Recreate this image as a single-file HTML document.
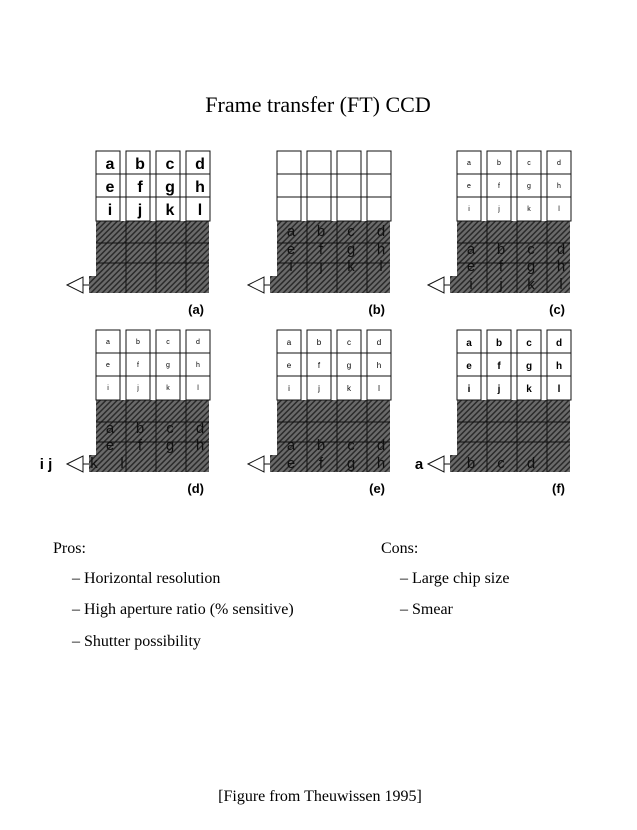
<!DOCTYPE html><html><head><style>body{margin:0;background:#fff}</style></head><body>
<svg width="637" height="825" xmlns="http://www.w3.org/2000/svg" font-family="Liberation Sans, sans-serif">
<defs><pattern id="h" width="4" height="4" patternUnits="userSpaceOnUse" patternTransform="rotate(45)"><rect width="4" height="4" fill="#6a6a6a"/><rect width="1.5" height="4" fill="#2a2a2a"/></pattern>
<g id="base"><rect x="0" y="70" width="113" height="55" fill="url(#h)"/><rect x="-7" y="125" width="120" height="17" fill="url(#h)"/>
<g stroke="#111" stroke-width="1" fill="none"><line x1="30" y1="70" x2="30" y2="142"/><line x1="60" y1="70" x2="60" y2="142"/><line x1="90" y1="70" x2="90" y2="142"/><line x1="0" y1="92" x2="113" y2="92"/><line x1="0" y1="112" x2="113" y2="112"/></g>
<g fill="#fff" stroke="#111"><rect x="0" y="0" width="24" height="70"/><rect x="30" y="0" width="24" height="70"/><rect x="60" y="0" width="24" height="70"/><rect x="90" y="0" width="24" height="70"/></g>
<g stroke="#111"><line x1="0" y1="23" x2="114" y2="23"/><line x1="0" y1="46" x2="114" y2="46"/></g>
<g stroke="#111" fill="#fff"><polygon points="-29,134 -13,126 -13,142"/><line x1="-13" y1="134" x2="-7" y2="134"/></g></g></defs>
<text x="318" y="112" text-anchor="middle" font-family="Liberation Serif, serif" font-size="22">Frame transfer (FT) CCD</text>
<g transform="translate(96,151)"><use href="#base"/><g font-size="16" font-weight="bold" text-anchor="middle"><text x="14" y="18">a</text><text x="44" y="18">b</text><text x="74" y="18">c</text><text x="104" y="18">d</text><text x="14" y="41">e</text><text x="44" y="41">f</text><text x="74" y="41">g</text><text x="104" y="41">h</text><text x="14" y="64">i</text><text x="44" y="64">j</text><text x="74" y="64">k</text><text x="104" y="64">l</text></g><text x="108" y="163" font-size="13" font-weight="bold" text-anchor="end">(a)</text></g>
<g transform="translate(277,151)"><use href="#base"/><g font-size="15" fill="#111" text-anchor="middle"><text x="14" y="85">a</text><text x="44" y="85">b</text><text x="74" y="85">c</text><text x="104" y="85">d</text><text x="14" y="103">e</text><text x="44" y="103">f</text><text x="74" y="103">g</text><text x="104" y="103">h</text><text x="14" y="120">i</text><text x="44" y="120">j</text><text x="74" y="120">k</text><text x="104" y="120">l</text></g><text x="108" y="163" font-size="13" font-weight="bold" text-anchor="end">(b)</text></g>
<g transform="translate(457,151)"><use href="#base"/><g font-size="7" text-anchor="middle"><text x="12" y="14">a</text><text x="42" y="14">b</text><text x="72" y="14">c</text><text x="102" y="14">d</text><text x="12" y="37">e</text><text x="42" y="37">f</text><text x="72" y="37">g</text><text x="102" y="37">h</text><text x="12" y="60">i</text><text x="42" y="60">j</text><text x="72" y="60">k</text><text x="102" y="60">l</text></g><g font-size="15" fill="#111" text-anchor="middle"><text x="14" y="103">a</text><text x="44" y="103">b</text><text x="74" y="103">c</text><text x="104" y="103">d</text><text x="14" y="120">e</text><text x="44" y="120">f</text><text x="74" y="120">g</text><text x="104" y="120">h</text><text x="14" y="138">i</text><text x="44" y="138">j</text><text x="74" y="138">k</text><text x="104" y="138">l</text></g><text x="108" y="163" font-size="13" font-weight="bold" text-anchor="end">(c)</text></g>
<g transform="translate(96,330)"><use href="#base"/><g font-size="7" text-anchor="middle"><text x="12" y="14">a</text><text x="42" y="14">b</text><text x="72" y="14">c</text><text x="102" y="14">d</text><text x="12" y="37">e</text><text x="42" y="37">f</text><text x="72" y="37">g</text><text x="102" y="37">h</text><text x="12" y="60">i</text><text x="42" y="60">j</text><text x="72" y="60">k</text><text x="102" y="60">l</text></g><g font-size="15" fill="#111" text-anchor="middle"><text x="14" y="103">a</text><text x="44" y="103">b</text><text x="74" y="103">c</text><text x="104" y="103">d</text><text x="14" y="120">e</text><text x="44" y="120">f</text><text x="74" y="120">g</text><text x="104" y="120">h</text><text x="-2" y="138">k</text><text x="26" y="138">l</text></g><text x="-50" y="139" font-size="15" font-weight="bold" text-anchor="middle">i j</text><text x="108" y="163" font-size="13" font-weight="bold" text-anchor="end">(d)</text></g>
<g transform="translate(277,330)"><use href="#base"/><g font-size="8" text-anchor="middle"><text x="12" y="15">a</text><text x="42" y="15">b</text><text x="72" y="15">c</text><text x="102" y="15">d</text><text x="12" y="38">e</text><text x="42" y="38">f</text><text x="72" y="38">g</text><text x="102" y="38">h</text><text x="12" y="61">i</text><text x="42" y="61">j</text><text x="72" y="61">k</text><text x="102" y="61">l</text></g><g font-size="15" fill="#111" text-anchor="middle"><text x="14" y="120">a</text><text x="44" y="120">b</text><text x="74" y="120">c</text><text x="104" y="120">d</text><text x="14" y="138">e</text><text x="44" y="138">f</text><text x="74" y="138">g</text><text x="104" y="138">h</text></g><text x="108" y="163" font-size="13" font-weight="bold" text-anchor="end">(e)</text></g>
<g transform="translate(457,330)"><use href="#base"/><g font-size="10" font-weight="bold" text-anchor="middle"><text x="12" y="16">a</text><text x="42" y="16">b</text><text x="72" y="16">c</text><text x="102" y="16">d</text><text x="12" y="39">e</text><text x="42" y="39">f</text><text x="72" y="39">g</text><text x="102" y="39">h</text><text x="12" y="62">i</text><text x="42" y="62">j</text><text x="72" y="62">k</text><text x="102" y="62">l</text></g><g font-size="15" fill="#111" text-anchor="middle"><text x="14" y="138">b</text><text x="44" y="138">c</text><text x="74" y="138">d</text></g><text x="-38" y="139" font-size="15" font-weight="bold" text-anchor="middle">a</text><text x="108" y="163" font-size="13" font-weight="bold" text-anchor="end">(f)</text></g>
<g font-family="Liberation Serif, serif" font-size="16"><text x="53" y="553">Pros:</text><text x="72" y="583">– Horizontal resolution</text><text x="72" y="614">– High aperture ratio (% sensitive)</text><text x="72" y="646">– Shutter possibility</text><text x="381" y="553">Cons:</text><text x="400" y="583">– Large chip size</text><text x="400" y="614">– Smear</text><text x="320" y="801" text-anchor="middle">[Figure from Theuwissen 1995]</text></g>
</svg></body></html>
